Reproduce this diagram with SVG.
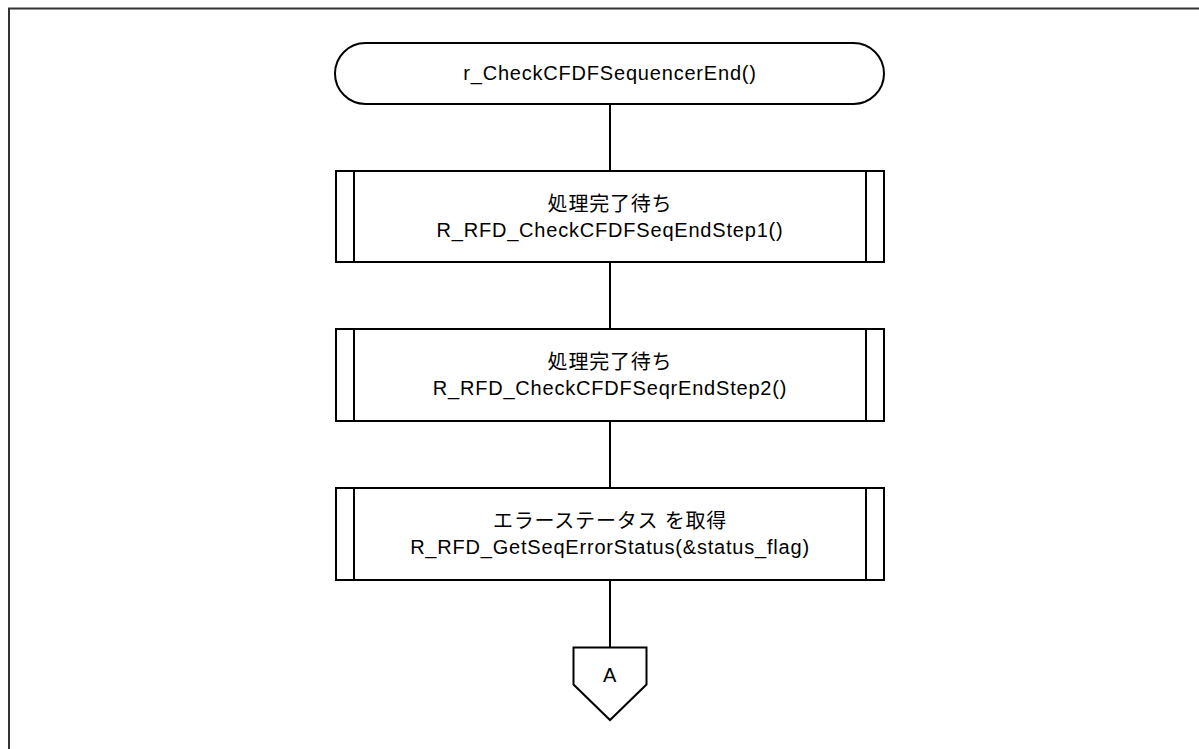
<svg xmlns="http://www.w3.org/2000/svg" width="1199" height="749" viewBox="0 0 1199 749">
<style>
.s{fill:#fff;stroke:#000;stroke-width:2}
.f{fill:none;stroke:#333;stroke-width:2}
.l{fill:none;stroke:#000;stroke-width:2}
text{font-family:"Liberation Sans","Noto Sans CJK JP",Arial,sans-serif;font-size:20px;letter-spacing:0.8px;fill:#000;text-anchor:middle}
</style>
<rect width="1199" height="749" fill="#fff"/>
<path class="f" d="M9,749 V8.5 H1199"/>
<g id="connectors">
<line class="l" x1="610" y1="104" x2="610" y2="171"/>
<line class="l" x1="610" y1="262" x2="610" y2="329"/>
<line class="l" x1="610" y1="421" x2="610" y2="488"/>
<line class="l" x1="610" y1="580" x2="610" y2="647"/>
</g>
<g id="start">
<rect class="s" x="335" y="43" width="549" height="61" rx="30.5"/>
<text x="610" y="80">r_CheckCFDFSequencerEnd()</text>
</g>
<g id="step1">
<rect class="s" x="336" y="171" width="548" height="91"/>
<line class="l" x1="354" y1="171" x2="354" y2="262"/>
<line class="l" x1="866" y1="171" x2="866" y2="262"/>
<text x="610" y="211">処理完了待ち</text>
<text x="610" y="237">R_RFD_CheckCFDFSeqEndStep1()</text>
</g>
<g id="step2">
<rect class="s" x="336" y="329" width="548" height="92"/>
<line class="l" x1="354" y1="329" x2="354" y2="421"/>
<line class="l" x1="866" y1="329" x2="866" y2="421"/>
<text x="610" y="369">処理完了待ち</text>
<text x="610" y="395">R_RFD_CheckCFDFSeqrEndStep2()</text>
</g>
<g id="step3">
<rect class="s" x="336" y="488" width="548" height="92"/>
<line class="l" x1="354" y1="488" x2="354" y2="580"/>
<line class="l" x1="866" y1="488" x2="866" y2="580"/>
<text x="610" y="528">エラーステータス を取得</text>
<text x="610" y="554">R_RFD_GetSeqErrorStatus(&amp;status_flag)</text>
</g>
<g id="connectorA">
<path class="s" d="M573.5,647.5 H646.5 V684.5 L610,720 L573.5,684.5 Z"/>
<text x="610" y="682">A</text>
</g>
</svg>
